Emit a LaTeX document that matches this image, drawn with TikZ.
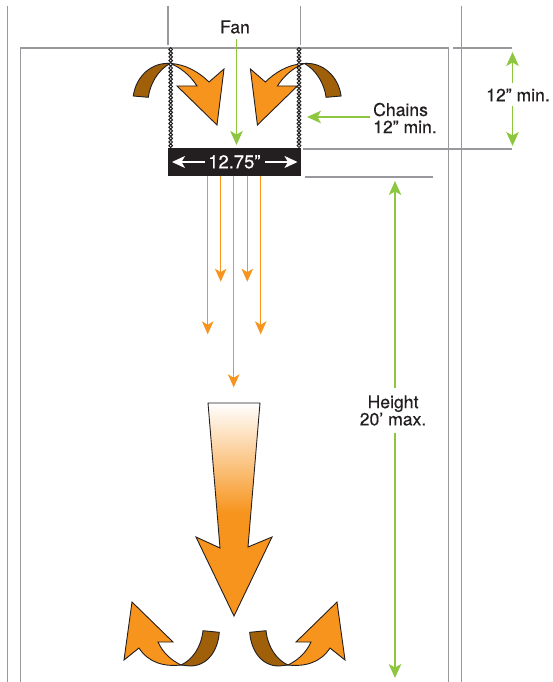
\documentclass[tikz,border=0pt]{standalone}
\usepackage{fontspec}
\setmainfont[FakeBold=0.35]{TeX Gyre Heros}
\usetikzlibrary{arrows.meta}
\definecolor{wallgray}{RGB}{152,153,156}
\definecolor{dimgreen}{RGB}{141,198,63}
\definecolor{airorange}{RGB}{247,148,29}
\definecolor{airbrown}{RGB}{160,96,10}
\definecolor{inkblack}{RGB}{35,31,32}
\tikzset{
  wall/.style={draw=wallgray,line width=1.2pt},
  dimarrow/.style={draw=dimgreen,line width=1.3pt,-{Stealth[length=14pt,width=12.5pt,inset=3.5pt]}},
  flowarrow/.style={draw=airorange,line width=1.1pt,-{Stealth[length=13pt,width=11.5pt,inset=3.5pt]}},
  whitearrow/.style={draw=white,line width=1.1pt,-{Stealth[length=13pt,width=12pt,inset=3.5pt]}},
  label/.style={inner sep=0pt,text=inkblack,font=\fontsize{17.6}{17.2}\selectfont},
  shapeline/.style={draw=inkblack,line width=0.9pt,line join=miter},
  link/.style={draw=inkblack,fill=white,line width=1pt},
}
\newcommand{\toparrow}{%
  \fill[airbrown,shapeline] (133.3,96) .. controls (136,76) and (152,62) .. (170,63.5)
     .. controls (158,70) and (150,84) .. (148.3,97.3) -- cycle;
  \fill[airorange,shapeline] (170,63.5) .. controls (186,64) and (200,73) .. (209,82)
     -- (224,69) -- (217,125) -- (177,86) -- (197,86)
     .. controls (190,75) and (180,67) .. (170,63.5) -- cycle;
}
\newcommand{\botarrow}{%
  \fill[airbrown,shapeline] (181,665) .. controls (192,660) and (201,648) .. (203,630.7)
     -- (219.3,632.3) .. controls (218,650) and (208,666) .. (190,666) -- cycle;
  \fill[airorange,shapeline] (132,602) -- (173,642) -- (158,642)
     .. controls (163,653) and (171,660) .. (181,665)
     .. controls (163,667) and (148,662) .. (139,648) -- (124,660) -- cycle;
}
\begin{document}
\begin{tikzpicture}[x=1pt,y=-1pt]
\useasboundingbox (0,0) rectangle (553,682);
% room
\draw[wall] (7.5,5.7) -- (7.5,682);
\draw[wall] (20.5,682) -- (20.5,48) -- (448.5,48) -- (448.5,682);
\draw[wall] (461.5,5.7) -- (461.5,682);
\draw[wall] (168,5.7) -- (168,45);
\draw[wall] (300.5,5.7) -- (300.5,45);
\draw[wall] (453,48) -- (512,48);
\draw[wall] (303,149) -- (512,149);
\draw[wall] (305,177) -- (433,177);
% coordinates
\coordinate (fanS) at (236.5,39.3);  \coordinate (fanE) at (236.5,145);
\coordinate (dimA) at (512.5,83);    \coordinate (dimAe) at (512.5,52);
\coordinate (dimB) at (512.5,106);   \coordinate (dimBe) at (512.5,146);
\coordinate (chS) at (370,117);      \coordinate (chE) at (307,117);
\coordinate (hA) at (395,388);       \coordinate (hAe) at (395,181);
\coordinate (hB) at (395,432.7);     \coordinate (hBe) at (395,678);
% circulating air
\toparrow
\begin{scope}[xshift=474.4pt,xscale=-1]\toparrow\end{scope}
% chains
\foreach \yy in {49.5,53.2,...,147}{
  \draw[link] (170.7,\yy) circle (1.8);
  \draw[link] (299,\yy) circle (1.8);
}
% fan blade box
\node[fill=inkblack,text=white,minimum width=133.3pt,minimum height=27.7pt,inner sep=0pt,font=\fontsize{18.4}{18}\selectfont] (box) at (234.4,161.85) {12.75”};
\coordinate (wl1) at (205,162); \coordinate (wl2) at (172,162);
\coordinate (wr1) at (265,162); \coordinate (wr2) at (297.5,162);
\draw[whitearrow] (wl1) -- (wl2);
\draw[whitearrow] (wr1) -- (wr2);
% flow arrows
\foreach \nm/\xx/\tip in {a/207.7/334.3,b/220.7/281.7,c/233.7/387.3,d/247.3/281.7,e/260.7/334.3}{
  \coordinate (fl\nm s) at (\xx,175.7);
  \coordinate (fl\nm e) at (\xx,\tip);
  \draw[flowarrow] (fl\nm s) -- (fl\nm e);
}
% big arrow
\begin{scope}
  \clip (208,403) -- (260,403) -- (248,547) -- (272,537) -- (234,616) -- (196,537) -- (220,548) -- cycle;
  \shade[top color=white,bottom color=airorange] (190,403) rectangle (280,513);
  \fill[airorange] (190,512.5) rectangle (280,620);
\end{scope}
\draw[shapeline] (208,403) -- (260,403) -- (248,547) -- (272,537) -- (234,616) -- (196,537) -- (220,548) -- cycle;
% floor air
\botarrow
\begin{scope}[xshift=469pt,xscale=-1]\botarrow\end{scope}
% dimensions
\draw[dimarrow] (fanS) -- (fanE);
\draw[dimarrow] (dimA) -- (dimAe);
\draw[dimarrow] (dimB) -- (dimBe);
\draw[dimarrow] (chS) -- (chE);
\draw[dimarrow] (hA) -- (hAe);
\draw[dimarrow] (hB) -- (hBe);
% labels
\node[label] (fan) at (235,27) {Fan};
\node[label,anchor=center] (min) at (518,95) {12” min.};
\node[label,align=left,anchor=west] (chains) at (373,118) {Chains\\12” min.};
\node[label,align=center] (height) at (393,410.5) {Height\\20’ max.};
\end{tikzpicture}
\end{document}
